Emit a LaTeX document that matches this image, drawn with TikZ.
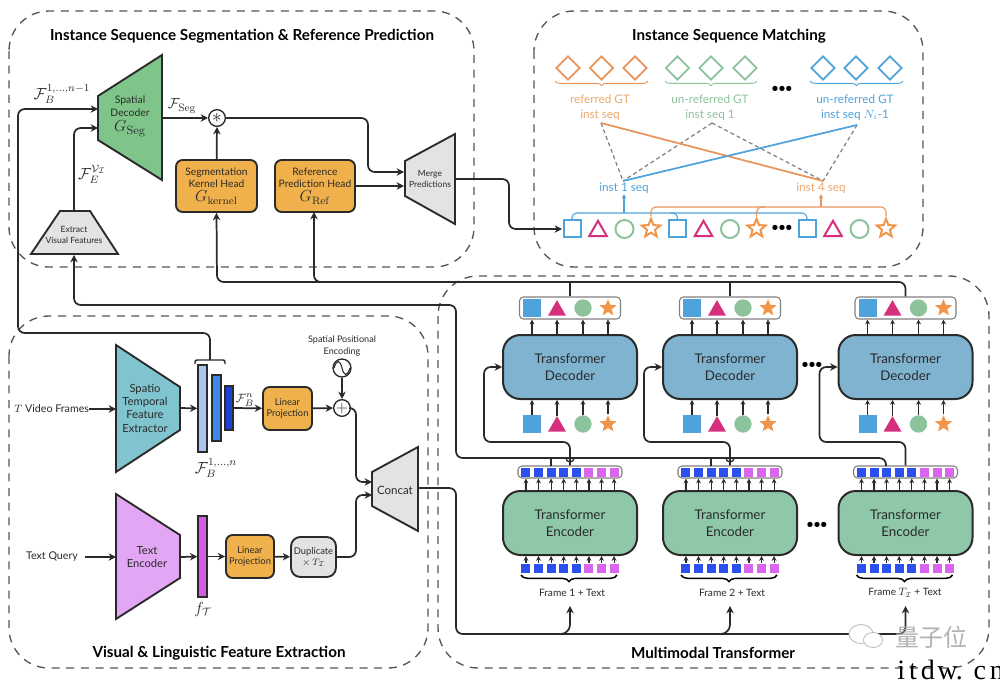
\documentclass[tikz,border=0pt]{standalone}
\usepackage[no-math]{fontspec}
\setmainfont{Lato}
\newfontfamily\cjk{Noto Sans CJK SC}
\newfontfamily\wmserif{Liberation Serif}
\usetikzlibrary{arrows.meta,shapes.geometric,decorations.pathreplacing,calc}
\definecolor{cgreen}{HTML}{7FC58A}
\definecolor{corange}{HTML}{F0B04C}
\definecolor{cgray}{HTML}{E3E3E3}
\definecolor{cteal}{HTML}{7FC4CE}
\definecolor{cpurple}{HTML}{E2A6F5}
\definecolor{cdec}{HTML}{7FB3CF}
\definecolor{cenc}{HTML}{8EC8A8}
\definecolor{sqb}{HTML}{4FA3DC}
\definecolor{trp}{HTML}{D62F7E}
\definecolor{cig}{HTML}{8DC39C}
\definecolor{sto}{HTML}{F0954A}
\definecolor{tokb}{HTML}{2B50EE}
\definecolor{tokp}{HTML}{D965F0}
\definecolor{gtor}{HTML}{E8945C}
\definecolor{gtlab}{HTML}{F0A86A}
\definecolor{ink}{HTML}{2A2A2A}
\definecolor{dashc}{HTML}{555555}
\definecolor{barA}{HTML}{A9C6F0}
\definecolor{barB}{HTML}{3F86EE}
\definecolor{barC}{HTML}{1F3FD9}
\definecolor{barT}{HTML}{D45BE6}
\tikzset{
 x=0.75pt,y=-0.75pt,
 every node/.style={text=ink,inner sep=0pt,align=center},
 wh/.style 2 args={minimum width=#1*0.75pt,minimum height=#2*0.75pt},
 region/.style={draw=dashc,line width=1pt,dash pattern=on 6pt off 5pt,rounded corners=30pt},
 title/.style={font=\bfseries\fontsize{11.4}{12}\selectfont,text=black},
 conn/.style={draw=ink,line width=1.3pt,rounded corners=5pt},
 arr/.style={conn,-{Stealth[length=5.5pt,width=5.5pt]}},
 thinarr/.style={draw=ink,line width=.9pt,-{Stealth[length=3.6pt,width=3.6pt]}},
 trap/.style={draw=ink,line width=1.4pt,line join=miter},
 headbox/.style={draw=ink,line width=1.4pt,fill=corange,rounded corners=5pt,font=\fontsize{7.7}{9.2}\selectfont},
 lab/.style={font=\fontsize{7.8}{9.8}\selectfont},
 smalllab/.style={font=\fontsize{6.4}{8}\selectfont},
 bigbox/.style={draw=ink,line width=1.5pt,rounded corners=13pt,wh={134}{64},font=\fontsize{10}{13.2}\selectfont},
 barstyle/.style={draw=ink,line width=1pt},
 seqbox/.style={draw=gray,line width=.8pt,fill=white,rounded corners=3pt},
 shsq/.style={fill=sqb,wh={18}{18}},
 shtri/.style={regular polygon,regular polygon sides=3,fill=trp,minimum size=15.6pt},
 shcirc/.style={circle,fill=cig,minimum size=13pt},
 shstar/.style={star,star points=5,star point ratio=2.3,fill=sto,minimum size=13.5pt},
 osq/.style={draw=sqb,line width=1.5pt,wh={17}{17}},
 otri/.style={regular polygon,regular polygon sides=3,draw=trp,line width=1.5pt,minimum size=15.2pt},
 ocirc/.style={circle,draw=cig,line width=1.5pt,minimum size=13.5pt},
 ostar/.style={star,star points=5,star point ratio=2.3,draw=sto,line width=1.5pt,minimum size=14.5pt},
 dia/.style={diamond,line width=1.3pt,wh={24}{24}},
 tok/.style={wh={9}{9}},
 dots/.style={font=\bfseries\fontsize{9}{9}\selectfont,text=black},
 gtlabel/.style={font=\fontsize{8.8}{11.2}\selectfont},
 thinbrace/.style={line width=.7pt,decorate,decoration={brace,amplitude=3.5pt,mirror}},
 bigbrace/.style={draw=black,line width=1.1pt,decorate,decoration={brace,amplitude=5pt,mirror}},
 opc/.style={circle,draw=ink,line width=1pt,fill=white,minimum size=12.5pt},
}
\begin{document}
\begin{tikzpicture}
\useasboundingbox (0,0) rectangle (1000,681);
\fill[white] (0,0) rectangle (1000,681);
% regions
\draw[region] (9,11) rectangle (474,267);
\draw[region] (534,11) rectangle (923,267);
\draw[region] (9,316) rectangle (428,668);
\draw[region] (438,276) rectangle (989,668);
\node[title] (t1) at (242,36) {Instance Sequence Segmentation \& Reference Prediction};
\node[title] (t2) at (729,36) {Instance Sequence Matching};
\node[title] (t3) at (219,653) {Visual \& Linguistic Feature Extraction};
\node[title] (t4) at (713,653) {Multimodal Transformer};

% trapezoids
\draw[trap,fill=cgreen] (98,96) -- (162,55) -- (162,180) -- (98,140) -- cycle;
\node[lab] (sdl) at (130,116.5) {Spatial\\Decoder\\[1.5pt]{\fontsize{12.5}{12.5}\selectfont$G_{\mathrm{Seg}}$}};
\draw[trap,fill=cgray] (31,254) -- (60,211) -- (90,211) -- (118,254) -- cycle;
\node[smalllab] (evl) at (74,235) {Extract\\Visual Features};
\draw[trap,fill=cgray] (405,161) -- (455,134) -- (455,224) -- (405,196) -- cycle;
\node[smalllab] (mgl) at (430,179) {Merge\\Predictions};
\draw[trap,fill=cteal] (116,345) -- (180,387) -- (180,430) -- (116,472) -- cycle;
\node[lab,font=\fontsize{8.4}{10}\selectfont] (stl) at (145,408) {Spatio\\Temporal\\Feature\\Extractor};
\draw[trap,fill=cpurple] (116,494) -- (180,535) -- (180,578) -- (116,619) -- cycle;
\node[lab,font=\fontsize{8.4}{10}\selectfont] (tel) at (147,557) {Text\\Encoder};
\draw[trap,fill=cgray] (372,472) -- (418,447) -- (418,531) -- (372,506) -- cycle;
\node[lab,font=\fontsize{8.6}{10}\selectfont] (ccl) at (395,490) {Concat};
\coordinate (sdA) at (98,109);
\coordinate (sdB) at (98,128);
\coordinate (sdO) at (162,118);
\coordinate (evT) at (74,211);
\coordinate (evB) at (74,255);
\coordinate (mgA) at (404,172);
\coordinate (mgB) at (404,186);
\coordinate (mgO) at (455,179);
\coordinate (mtI) at (562,229);
\coordinate (stI) at (116,409);
\coordinate (stO) at (180,408);
\coordinate (teI) at (116,557);
\coordinate (teO) at (180,557);
\coordinate (ccA) at (372,482);
\coordinate (ccB) at (372,495);
\coordinate (ccO) at (418,488);

% heads
\node[headbox,wh={81}{52}] (kern) at (216.5,186) {Segmentation\\Kernel Head\\[1.5pt]{\fontsize{12}{12}\selectfont$G_{\mathrm{kernel}}$}};
\node[headbox,wh={80}{52}] (refh) at (315,186) {Reference\\Prediction Head\\[1.5pt]{\fontsize{12}{12}\selectfont$G_{\mathrm{Ref}}$}};
\node[opc] (mul) at (217,118) {\fontsize{15}{15}\selectfont$\ast$};

% backbone
\node[barstyle,fill=barA,wh={9}{87}] (b1f) at (202.5,408.5) {};
\node[barstyle,fill=barB,wh={9}{66}] (b2) at (216.5,408) {};
\node[barstyle,fill=barC,wh={8}{44}] (b3) at (229,408) {};
\node[barstyle,fill=barT,wh={9}{81}] (ft) at (202.5,556.5) {};
\node[headbox,wh={49}{43},font=\fontsize{7}{8.6}\selectfont] (lp1) at (287.5,408.5) {Linear\\Projection};
\node[headbox,wh={48}{43},font=\fontsize{7}{8.6}\selectfont] (lp2) at (250,556.5) {Linear\\Projection};
\node[headbox,fill=cgray,rounded corners=7pt,wh={45}{40},font=\fontsize{7}{8.6}\selectfont] (dup) at (313.5,557) {Duplicate\\$\times\,T_{\mathcal{I}}$};
\node[opc] (plus) at (342,408) {\fontsize{12}{12}\selectfont$+$};
\node[circle,draw=ink,line width=1pt,minimum size=13.5pt] (sine) at (342,368) {};
\draw[ink,line width=.8pt] (334,368) .. controls (337,359) and (340,360) .. (342,368) .. controls (344,376) and (347,377) .. (350,368);
\node[smalllab,font=\fontsize{6.8}{9}\selectfont] (spe) at (342,346) {Spatial Positional\\Encoding};
\node[lab,anchor=west,font=\fontsize{8}{10}\selectfont] (vid) at (14,409) {$T$ Video Frames};
\node[lab,font=\fontsize{8}{10}\selectfont] (txq) at (52,557) {Text Query};
\coordinate (brk) at (210,360);
\coordinate (txqE) at (85,557);
\draw[ink,line width=1.1pt,rounded corners=1.5pt] (195,364) -- (195,360) -- (225,360) -- (225,364);

% math labels
\node (lFB) at (62,94) {\fontsize{12}{12}\selectfont$\mathcal{F}_B^{1,\ldots,n-1}$};
\node (lFS) at (182,106) {\fontsize{11}{11}\selectfont$\mathcal{F}_{\mathrm{Seg}}$};
\node (lFE) at (92,174) {\fontsize{11.5}{11.5}\selectfont$\mathcal{F}_E^{\mathcal{V}_{\mathcal{I}}}$};
\node (lFBn) at (245,400) {\fontsize{9.5}{9.5}\selectfont$\mathcal{F}_B^n$};
\node (lFBa) at (216,468) {\fontsize{12}{12}\selectfont$\mathcal{F}_B^{1,\ldots,n}$};
\node (lft) at (203,609) {\fontsize{11.5}{11.5}\selectfont$f_{\mathcal{T}}$};

% connectors left
\draw[arr] (brk) |- (18,333) -- (18,109) -- (sdA);
\draw[arr] (evT) |- (sdB);
\draw[arr] (sdO) -- (mul);
\draw[arr] (kern) -- (mul);
\draw[arr] (mul) -- (368,118) -- (368,172) -- (mgA);
\draw[arr] (refh.east |- mgB) -- (mgB);
\draw[arr] (mgO) -- (509,179) -- (509,229) -- (mtI);
\draw[arr,rounded corners=0pt] (vid.east) -- (stI);
\draw[arr] (stO) -- (b1f);
\draw[arr] (b3) -- (lp1);
\draw[arr] (lp1) -- (plus);
\draw[arr] (sine) -- (plus);
\draw[arr] (plus) -- (356,408) -- (356,482) -- (ccA);
\draw[arr] (txqE) -- (teI);
\draw[arr] (teO) -- (ft);
\draw[arr] (ft) -- (lp2);
\draw[arr] (lp2) -- (dup);
\draw[arr] (dup) -- (356,557) -- (356,495) -- (ccB);

% transformer columns
\foreach \cx/\n in {570/a,730/b,905.5/c}{
  \node[bigbox,fill=cdec] (dec\n) at (\cx,367) {Transformer\\Decoder};
  \node[bigbox,fill=cenc] (enc\n) at (\cx,523) {Transformer\\Encoder};
  \node[seqbox,wh={101}{22}] (top\n) at (\cx,308) {};
  \node[seqbox,wh={104}{12}] (seq\n) at (\cx,472) {};
  \coordinate (fa\n) at (\cx,606);
  % decoder output row
  \node[shsq] (tA\n) at (\cx-38,308) {};
  \node[shtri] (tB\n) at (\cx-13,310.5) {};
  \node[shcirc] (tC\n) at (\cx+13,308) {};
  \node[shstar] (tD\n) at (\cx+38,308) {};
  % decoder input row
  \node[shsq] (iA\n) at (\cx-38,424) {};
  \node[shtri] (iB\n) at (\cx-13,426.5) {};
  \node[shcirc] (iC\n) at (\cx+13,424) {};
  \node[shstar] (iD\n) at (\cx+38,424) {};
  \foreach \s in {A,B,C,D}{
    \draw[thinarr] (t\s\n |- dec\n.north) -- (t\s\n |- top\n.south);
    \draw[thinarr] (i\s\n.north) -- (i\s\n |- dec\n.south);
  }
  % tokens
  \foreach \i/\cc in {0/tokb,1/tokb,2/tokb,3/tokb,4/tokb,5/tokp,6/tokp,7/tokp}{
    \node[tok,fill=\cc] (u\i\n) at ({\cx-44.1+12.6*\i},472) {};
    \node[tok,fill=\cc] (v\i\n) at ({\cx-44.1+12.6*\i},568) {};
    \draw[thinarr] (u\i\n |- enc\n.north) -- (u\i\n |- seq\n.south);
    \draw[thinarr] (v\i\n.north) -- (v\i\n |- enc\n.south);
  }
  \draw[bigbrace] (\cx-49,575) -- coordinate[pos=.5] (br\n) (\cx+47,575);
  % decoder feed
  \draw[arr] (seq\n.north) -- (\cx,442) -- (\cx-86,442) -- (\cx-86,367) -- (dec\n.west);
}
\node[lab,font=\fontsize{7.6}{9}\selectfont] (fra) at (572,593) {Frame 1 + Text};
\node[lab,font=\fontsize{7.6}{9}\selectfont] (frb) at (732,593) {Frame 2 + Text};
\node[lab,font=\fontsize{7.6}{9}\selectfont] (frc) at (905,593) {Frame $T_{\mathcal{I}}$ + Text};
\node[dots] (d1) at (812,365) {•••};
\node[dots] (d2) at (817,525) {•••};

% top bus
\coordinate (rfI) at (314,212);
\draw[arr] (topc.north) -- (905.5,282) -- (217,282) -- (kern.south);
\draw[arr] (322,282) -- (314,282) -- (rfI);
\draw[conn] (topa.north) -- (570,282);
\draw[conn] (topb.north) -- (730,282);
% encoder memory bus
\coordinate (tapc) at (886,466);
\draw[arr] (tapc) -- (886,458) -- (456,458) -- (456,305) -- (74,305) -- (evB);
\draw[conn] (551,466) -- (551,458);
\draw[conn] (711,466) -- (711,458);
\draw[ink,line width=1pt] (574,458) arc[start angle=0,end angle=180,radius=4];
\draw[ink,line width=1pt] (734,458) arc[start angle=0,end angle=180,radius=4];
% frame bus
\draw[arr] (ccO) -- (456,488) -- (456,634) -- (905.5,634) -- (fac);
\draw[arr,rounded corners=7pt] (560,634) -- (570,634) -- (faa);
\draw[arr,rounded corners=7pt] (720,634) -- (730,634) -- (fab);

% matching: GT diamonds
\foreach \x in {568,601.5,635}{\node[dia,draw=gtor] (dor\x) at (\x,68) {};}
\foreach \x in {677.5,711,745}{\node[dia,draw=cig] (dgr\x) at (\x,68) {};}
\foreach \x in {823,856,890}{\node[dia,draw=sqb] (dbl\x) at (\x,68) {};}
\draw[thinbrace,draw=gtor] (555,81) -- (648,81);
\draw[thinbrace,draw=cig] (665,81) -- (757,81);
\draw[thinbrace,draw=sqb] (810,81) -- (903,81);
\node[dots] (d3) at (782,89) {•••};
\node[gtlabel,text=gtlab] (gt1) at (600,107.5) {referred GT\\inst seq};
\node[gtlabel,text=cig] (gt2) at (710,107.5) {un-referred GT\\inst seq 1};
\node[gtlabel,text=sqb] (gt3) at (855,107.5) {un-referred GT\\inst seq $N_i$-1};
\node[gtlabel,text=sqb] (s1) at (624,188.5) {inst 1 seq};
\node[gtlabel,text=gtlab] (s4) at (821,188.5) {inst 4 seq};
\coordinate (c1) at (601,123);
\coordinate (c2) at (712,123);
\coordinate (c3) at (857,125);
\coordinate (m1) at (623,181);
\coordinate (m4) at (823,181);
\draw[gray,line width=.9pt,dash pattern=on 3pt off 2.2pt] (c1) -- (m1) (c2) -- (m1) (c2) -- (m4) (c3) -- (m4);
\draw[gtor,line width=1.3pt] (c1) -- (m4);
\draw[sqb,line width=1.3pt] (c3) -- (m1);

% matching: predicted row
\foreach \sx/\n in {572/p,677.5/q,807/r}{
  \node[osq] (ma\n) at (\sx,229) {};
  \node[otri] (mb\n) at (\sx+26,231) {};
  \node[ocirc] (mc\n) at (\sx+52.5,229) {};
  \node[ostar] (md\n) at (\sx+79,228.5) {};
}
\node[dots] (d4) at (782,228) {•••};
\draw[sqb,line width=.8pt,rounded corners=3.5pt] (map.north) -- (572,213) -- (807,213) -- (mar.north);
\draw[sqb,line width=.8pt,rounded corners=3.5pt] (670,213) -- (677.5,213) -- (maq.north);
\draw[sqb,line width=.8pt,-{Stealth[length=3.4pt,width=3.4pt]}] (624,213) -- (s1.south);
\draw[gtor,line width=.8pt,rounded corners=3.5pt] (mdp.north) -- (651,207) -- (886,207) -- (mdr.north);
\draw[gtor,line width=.8pt,rounded corners=3.5pt] (765,207) -- (757,207) -- (mdq.north);
\draw[gtor,line width=.8pt,-{Stealth[length=3.4pt,width=3.4pt]}] (821,207) -- (s4.south);

% watermark
\node[draw=gray!55,line width=.6pt,ellipse,wh={24}{19},fill=white] (wa) at (861,634) {};
\node[draw=gray!55,line width=.6pt,ellipse,wh={19}{15},fill=white] (wb) at (873,640) {};
\node[text=gray!60,font=\cjk\fontsize{18}{18}\selectfont] (wm) at (931,637) {量子位};
\node[text=black,anchor=base west,font=\wmserif\fontsize{21}{21}\selectfont] (itd) at (897,679) {i\kern3pt t\kern3pt d\kern2pt w.\kern8pt c\kern3pt n};
\end{tikzpicture}
\end{document}
